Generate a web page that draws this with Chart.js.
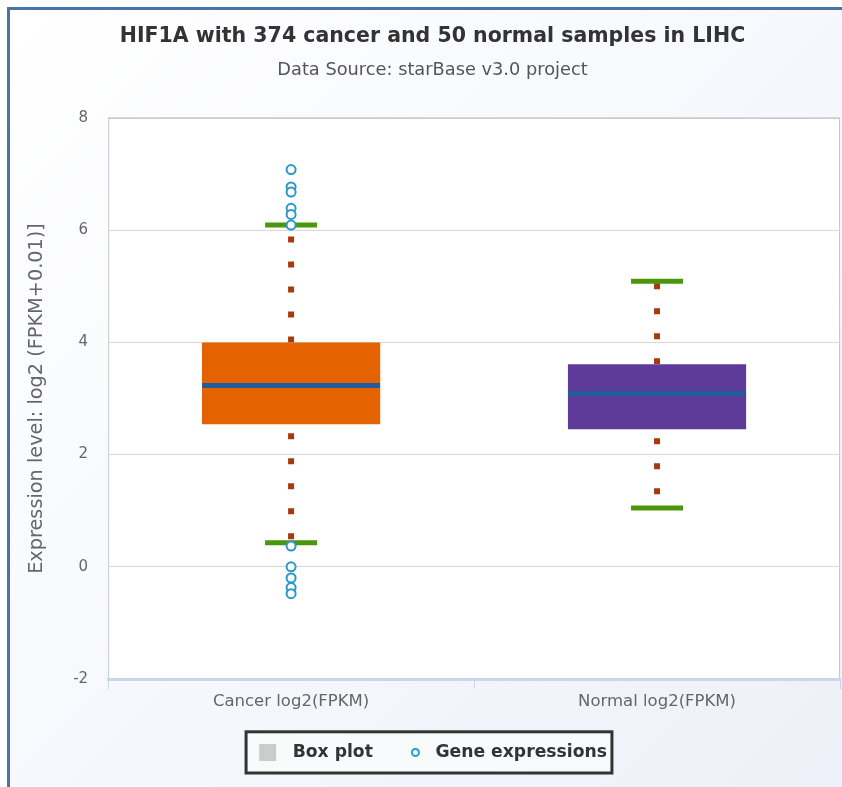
<!DOCTYPE html>
<html>
<head>
<meta charset="utf-8">
<script src="https://cdn.jsdelivr.net/npm/chart.js@4.4.1/dist/chart.umd.min.js"></script>
<style>
  html, body { margin: 0; padding: 0; width: 842px; height: 787px; overflow: hidden; }
  body { background: #fff; position: relative; }
  #frame {
    position: absolute; left: 7px; top: 7px; width: 900px; height: 900px;
    border-left: 3px solid #4a74a6; border-top: 3px solid #4a74a6;
    background: linear-gradient(135deg, #ffffff 0%, #f6f7fc 50%, #eceef8 100%);
  }
  #wrap { position: absolute; left: 10px; top: 0; width: 842px; height: 787px; }
</style>
</head>
<body>
<div id="frame"></div>
<div id="wrap"><canvas id="myChart" width="842" height="787"></canvas></div>
<script>
// box plot waarden
const categories = ["Cancer log2(FPKM)", "Normal log2(FPKM)"];
const q1 = [2.54, 2.45];
const q3 = [4.0, 3.61];
const medians = [3.23, 3.09];
const whiskerLow = [0.43, 1.05];
const whiskerHigh = [6.09, 5.09];
const cancerOutliers = [7.08, 6.77, 6.68, 6.39, 6.28, 6.09, 0.37, 0.0, -0.2, -0.37, -0.48];
const normalOutliers = [];
const yMin = -2;
const yMax = 8;
const yStep = 2;

const boxColors = ["#e46200", "#5e3b98"];
const stemColor = "#a63a0c";
const whiskerColor = "#4b960a";
const medianColor = "#215c9c";
const outlierColor = "#2a98c8";

// kleine plaatjes voor de legenda
function legendIcon(kind) {
  const c = document.createElement("canvas");
  c.width = 26; c.height = 17;
  const g = c.getContext("2d");
  if (kind === "rect") {
    g.fillStyle = "#cccccc";
    g.fillRect(1, 0, 17, 17);
  } else {
    g.strokeStyle = outlierColor;
    g.lineWidth = 2;
    g.beginPath();
    g.arc(14.5, 8.5, 3.5, 0, Math.PI * 2);
    g.stroke();
  }
  return c;
}
const rectIcon = legendIcon("rect");
const circleIcon = legendIcon("circle");

const datasets = [];

datasets.push({
  type: "bar",
  label: "Box plot",
  data: categories.map((c, i) => [q1[i], q3[i]]),
  backgroundColor: boxColors,
  borderWidth: 0,
  barPercentage: 0.487,
  categoryPercentage: 1,
  order: 3,
});

// gestippelde lijnen tussen box en whisker
for (let i = 0; i < categories.length; i++) {
  datasets.push({
    type: "line",
    label: "stem-hi",
    data: [{ x: categories[i], y: q3[i] }, { x: categories[i], y: whiskerHigh[i] }],
    borderColor: stemColor,
    borderWidth: 6,
    borderDash: [6, 19],
    borderCapStyle: "butt",
    pointRadius: 0,
    order: 4,
  });
  datasets.push({
    type: "line",
    label: "stem-lo",
    data: [{ x: categories[i], y: q1[i] }, { x: categories[i], y: whiskerLow[i] }],
    borderColor: stemColor,
    borderWidth: 6,
    borderDash: [6, 19],
    borderDashOffset: 16,
    borderCapStyle: "butt",
    pointRadius: 0,
    order: 4,
  });
}

datasets.push({
  type: "line",
  label: "whiskers",
  data: categories.flatMap((c, i) => [{ x: c, y: whiskerHigh[i] }, { x: c, y: whiskerLow[i] }]),
  showLine: false,
  pointStyle: "line",
  pointRadius: 26,
  pointBorderWidth: 5,
  borderColor: whiskerColor,
  order: 2,
});

datasets.push({
  type: "line",
  label: "medians",
  data: categories.map((c, i) => ({ x: c, y: medians[i] })),
  showLine: false,
  pointStyle: "line",
  pointRadius: 89,
  pointBorderWidth: 5,
  borderColor: medianColor,
  order: 1,
});

datasets.push({
  type: "line",
  label: "Gene expressions",
  data: cancerOutliers.map(v => ({ x: categories[0], y: v }))
    .concat(normalOutliers.map(v => ({ x: categories[1], y: v }))),
  showLine: false,
  pointStyle: "circle",
  pointRadius: 4.5,
  pointBorderWidth: 2,
  borderColor: outlierColor,
  backgroundColor: "#ffffff",
  order: 0,
});

// witte plot achtergrond, kader en legendakader
const decor = {
  id: "decor",
  beforeDraw(chart) {
    const ctx = chart.ctx;
    const a = chart.chartArea;
    ctx.save();
    ctx.fillStyle = "#ffffff";
    ctx.fillRect(a.left, a.top, a.right - a.left, a.bottom - a.top);
    ctx.strokeStyle = "#c8c8c8";
    ctx.lineWidth = 1;
    ctx.strokeRect(a.left + 0.5, a.top + 0.5, a.right - a.left - 1, a.bottom - a.top);
    const boxes = chart.legend.legendHitBoxes;
    if (boxes && boxes.length) {
      let l = Infinity, r = -Infinity, t = Infinity, b = -Infinity;
      boxes.forEach(h => {
        l = Math.min(l, h.left); r = Math.max(r, h.left + h.width);
        t = Math.min(t, h.top); b = Math.max(b, h.top + h.height);
      });
      ctx.fillStyle = "#f7fbfb";
      ctx.fillRect(l - 12, t - 12, r - l + 17, b - t + 24);
      ctx.strokeStyle = "#333333";
      ctx.lineWidth = 3;
      ctx.strokeRect(l - 12, t - 12, r - l + 17, b - t + 24);
    }
    ctx.restore();
  },
};

const myChart = document.getElementById("myChart");
new Chart(myChart, {
  data: { labels: categories, datasets: datasets },
  plugins: [decor],
  options: {
    responsive: false,
    animation: false,
    layout: { autoPadding: false, padding: { left: 15, right: 12, top: 0, bottom: 16 } },
    plugins: {
      tooltip: { enabled: false },
      title: {
        display: true,
        text: "HIF1A with 374 cancer and 50 normal samples in LIHC",
        font: { family: "DejaVu Sans", size: 20.5, weight: "bold" },
        color: "#333333",
        padding: { top: 24, bottom: 8 },
      },
      subtitle: {
        display: true,
        text: "Data Source: starBase v3.0 project",
        font: { family: "DejaVu Sans", size: 17.8 },
        color: "#555555",
        padding: { top: 3, bottom: 37 },
      },
      legend: {
        position: "bottom",
        onClick: null,
        labels: {
          usePointStyle: true,
          pointStyleWidth: 26,
          font: { family: "DejaVu Sans", size: 17.2, weight: "bold" },
          color: "#333333",
          padding: 28,
          generateLabels: () => [
            { text: "Box plot", pointStyle: rectIcon, fontColor: "#333333", datasetIndex: 0 },
            { text: "Gene expressions", pointStyle: circleIcon, fontColor: "#333333", datasetIndex: datasets.length - 1 },
          ],
        },
      },
    },
    scales: {
      x: {
        type: "category",
        offset: true,
        grid: { offset: true, drawOnChartArea: false, tickLength: 10, color: "#ccd6eb" },
        border: { color: "#ccd6eb", width: 3 },
        ticks: { font: { family: "DejaVu Sans", size: 16.5 }, color: "#666666", padding: 3 },
        afterFit: (scale) => { scale.height += 1; },
      },
      y: {
        min: yMin,
        max: yMax,
        ticks: { stepSize: yStep, font: { family: "DejaVu Sans", size: 15 }, color: "#666666", padding: 20 },
        grid: { color: "#d8d8d8", drawTicks: false },
        border: { display: false },
        title: {
          display: true,
          text: "Expression level: log2 (FPKM+0.01)]",
          font: { family: "DejaVu Sans", size: 19.3 },
          color: "#666666",
          padding: { top: 0, bottom: 5 },
        },
      },
    },
  },
});
</script>
</body>
</html>
